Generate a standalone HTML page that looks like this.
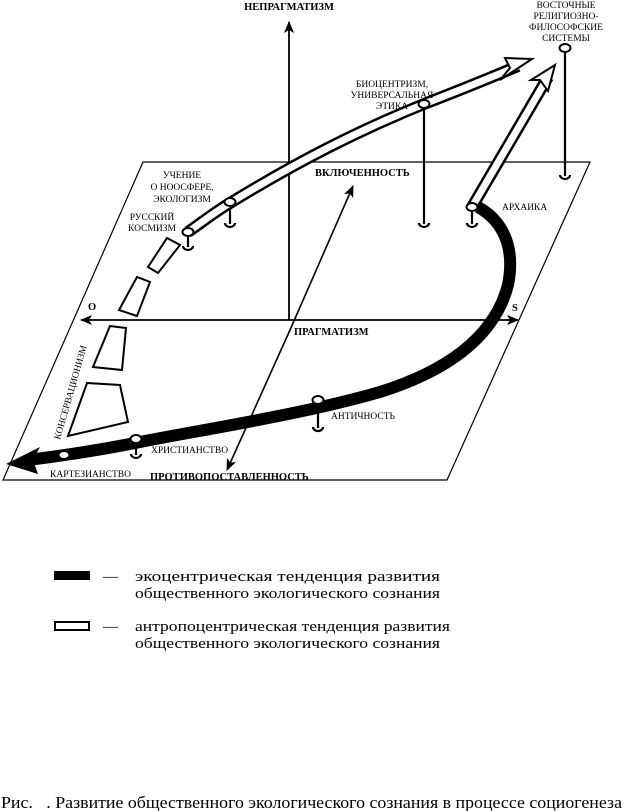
<!DOCTYPE html>
<html><head><meta charset="utf-8"><style>
html,body{margin:0;padding:0;background:#fff;}
svg{display:block;}
.s{font-family:"Liberation Serif",serif;font-size:9.5px;fill:#000;}
.b{font-family:"Liberation Serif",serif;font-size:10.5px;font-weight:bold;fill:#000;}
.l{font-family:"Liberation Serif",serif;font-size:15px;fill:#000;}
</style></head><body>
<svg width="624" height="811" viewBox="0 0 624 811" xmlns="http://www.w3.org/2000/svg">
<defs>
<marker id="ah" markerWidth="12" markerHeight="10" refX="11" refY="5" orient="auto" markerUnits="userSpaceOnUse"><path d="M0,0 L12,5 L0,10 L3,5 Z" fill="#000"/></marker>
</defs>
<polygon points="143,162 590,162 447,480 3,480" fill="none" stroke="#000" stroke-width="1.2"/>
<line x1="289" y1="320" x2="289" y2="22" stroke="#000" stroke-width="1.8" marker-end="url(#ah)"/>
<line x1="300" y1="320" x2="81" y2="320" stroke="#000" stroke-width="1.8" marker-end="url(#ah)"/>
<line x1="300" y1="320" x2="518" y2="320" stroke="#000" stroke-width="1.8" marker-end="url(#ah)"/>
<line x1="290" y1="330" x2="353" y2="186" stroke="#000" stroke-width="1.6" marker-end="url(#ah)"/>
<line x1="290" y1="330" x2="227" y2="470" stroke="#000" stroke-width="1.6" marker-end="url(#ah)"/>
<g stroke="#000" stroke-width="2.2" fill="none">
<line x1="565" y1="52" x2="565" y2="176"/>
<line x1="424" y1="108" x2="424" y2="224"/>
<line x1="230" y1="206" x2="230" y2="224"/>
<line x1="188" y1="236" x2="188" y2="247"/>
<line x1="472" y1="212" x2="472" y2="224"/>
<line x1="318" y1="404" x2="318" y2="428"/>
<line x1="136" y1="443" x2="136" y2="455"/>
<path d="M560,175 a5,4 0 1 0 10,0"/><path d="M419,223 a5,4 0 1 0 10,0"/><path d="M225,223 a5,4 0 1 0 10,0"/>
<path d="M183,246 a5,4 0 1 0 10,0"/><path d="M467,223 a5,4 0 1 0 10,0"/><path d="M313,427 a5,4 0 1 0 10,0"/><path d="M131,454 a5,4 0 1 0 10,0"/>
</g>
<path d="M478,207 C505,222 515,250 508,285 C495,335 450,370 380,392 C300,415 200,430 140,442 C100,450 60,456 28,460" fill="none" stroke="#000" stroke-width="12"/>
<polygon points="6,464 40,447 33,460 38,474" fill="#000"/>
<path d="M188,232 C205,220 215,212 230,203 C300,160 360,130 424,104 C460,90 490,78 518,66" fill="none" stroke="#000" stroke-width="12"/>
<path d="M188,232 C205,220 215,212 230,203 C300,160 360,130 424,104 C460,90 490,78 518,66" fill="none" stroke="#fff" stroke-width="7"/>
<polygon points="532,59 505,58 510,68 500,80" fill="#fff" stroke="#000" stroke-width="2"/>
<path d="M472,207 L548,77" fill="none" stroke="#000" stroke-width="12"/>
<path d="M472,207 L548,77" fill="none" stroke="#fff" stroke-width="7"/>
<polygon points="555,65 531,80 540,80 548,91" fill="#fff" stroke="#000" stroke-width="2"/>
<g fill="#fff" stroke="#000" stroke-width="2">
<polygon points="167,238 180,245 158,273 148,267"/>
<polygon points="137,277 150,282 137,316 119,310"/>
<polygon points="110,326 126,328 122,370 93,367"/>
<polygon points="87,383 120,385 128,422 68,436"/>
</g>
<g fill="#fff" stroke="#000" stroke-width="2">
<ellipse cx="565" cy="48" rx="5.5" ry="4"/><ellipse cx="424" cy="104" rx="5.5" ry="4"/><ellipse cx="230" cy="202" rx="5.5" ry="4"/>
<ellipse cx="188" cy="232" rx="5.5" ry="4"/><ellipse cx="472" cy="207" rx="5.5" ry="4"/><ellipse cx="318" cy="400" rx="5.5" ry="4"/>
<ellipse cx="136" cy="439" rx="5.5" ry="4"/><ellipse cx="64" cy="455" rx="5.5" ry="4"/>
</g>
<text class="b" x="289" y="10" text-anchor="middle">НЕПРАГМАТИЗМ</text>
<text class="s" x="566" y="8" text-anchor="middle">ВОСТОЧНЫЕ</text>
<text class="s" x="566" y="19" text-anchor="middle">РЕЛИГИОЗНО-</text>
<text class="s" x="566" y="30" text-anchor="middle">ФИЛОСОФСКИЕ</text>
<text class="s" x="566" y="41" text-anchor="middle">СИСТЕМЫ</text>
<text class="s" x="392" y="87" text-anchor="middle">БИОЦЕНТРИЗМ,</text>
<text class="s" x="392" y="98" text-anchor="middle">УНИВЕРСАЛЬНАЯ</text>
<text class="s" x="392" y="109" text-anchor="middle">ЭТИКА</text>
<text class="s" x="182" y="178" text-anchor="middle">УЧЕНИЕ</text>
<text class="s" x="182" y="190" text-anchor="middle">О НООСФЕРЕ,</text>
<text class="s" x="182" y="202" text-anchor="middle">ЭКОЛОГИЗМ</text>
<text class="s" x="152" y="220" text-anchor="middle">РУССКИЙ</text>
<text class="s" x="152" y="231" text-anchor="middle">КОСМИЗМ</text>
<text class="b" x="315" y="176">ВКЛЮЧЕННОСТЬ</text>
<text class="s" x="502" y="210">АРХАИКА</text>
<text class="b" x="88" y="310">O</text>
<text class="b" x="512" y="311">S</text>
<text class="b" x="294" y="335">ПРАГМАТИЗМ</text>
<text class="s" x="331" y="419">АНТИЧНОСТЬ</text>
<text class="s" x="151" y="453">ХРИСТИАНСТВО</text>
<text class="s" x="50" y="477">КАРТЕЗИАНСТВО</text>
<text class="b" x="150" y="480">ПРОТИВОПОСТАВЛЕННОСТЬ</text>
<text class="s" transform="translate(60,440) rotate(-74)">КОНСЕРВАЦИОНИЗМ</text>
<rect x="54" y="571" width="36" height="9" fill="#000"/>
<rect x="55" y="622" width="34" height="8" fill="#fff" stroke="#000" stroke-width="2"/>
<text class="l" x="103" y="581">—</text>
<text class="l" x="135" y="581" textLength="305" lengthAdjust="spacingAndGlyphs">экоцентрическая тенденция развития</text>
<text class="l" x="135" y="598" textLength="305" lengthAdjust="spacingAndGlyphs">общественного экологического сознания</text>
<text class="l" x="103" y="631">—</text>
<text class="l" x="135" y="631" textLength="315" lengthAdjust="spacingAndGlyphs">антропоцентрическая тенденция развития</text>
<text class="l" x="135" y="648" textLength="305" lengthAdjust="spacingAndGlyphs">общественного экологического сознания</text>
<text x="1" y="808" style="font-family:'Liberation Serif',serif;font-size:17px;" textLength="621" lengthAdjust="spacingAndGlyphs">Рис.&#160;&#160;&#160;. Развитие общественного экологического сознания в процессе социогенеза</text>
</svg>
</body></html>
